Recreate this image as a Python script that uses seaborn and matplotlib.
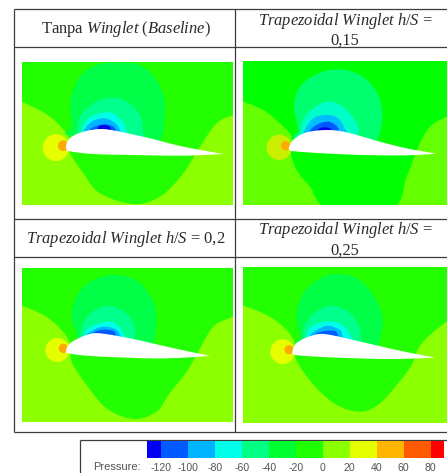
import numpy as np
import pandas as pd
import matplotlib
matplotlib.use("Agg")
import matplotlib.pyplot as plt
from matplotlib.colors import ListedColormap, BoundaryNorm
from matplotlib.patches import Circle
import seaborn as sns

#legend values
level_edges = [-130, -120, -100, -80, -60, -40, -20, 0, 20, 40, 60, 80, 90]
level_colors = ["#0000f0", "#005aff", "#00b4ff", "#00ffe6", "#00ff82", "#00ff32",
                "#1eff00", "#8cff00", "#e6ff00", "#ffb400", "#ff5a00", "#ff0000"]
legend_cells = [-125, -115, -105, -95, -85, -75, -65, -55, -45, -35, -25,
                -15, -5, 5, 15, 25, 35, 45, 55, 65, 75, 85]
legend_ticks = [-120, -100, -80, -60, -40, -20, 0, 20, 40, 60, 80]

#panel titles
titles = [
    r"Tanpa $\mathit{Winglet}$ ($\mathit{Baseline}$)",
    "$\\mathit{Trapezoidal\\ Winglet\\ h/S}$ =\n0,15",
    r"$\mathit{Trapezoidal\ Winglet\ h/S}$ = 0,2",
    "$\\mathit{Trapezoidal\\ Winglet\\ h/S}$ =\n0,25",
]

#contour outlines, panel 1
p1_rect = [66, 700, 185, 615]
p1_light = [(40, 295), (66, 305), (150, 350), (205, 410), (205, 450), (250, 520), (300, 580), (400, 612),
            (480, 590), (550, 520), (600, 440), (650, 370), (700, 345), (730, 335), (730, 650), (40, 650)]
p1_m20 = [(215, 380), (212, 300), (240, 230), (290, 195), (350, 187), (420, 195), (470, 240), (495, 310), (490, 390), (480, 430)]
p1_m40 = [(232, 395), (240, 350), (280, 310), (330, 293), (380, 305), (420, 345), (430, 400)]
p1_m60 = [(245, 395), (260, 360), (300, 340), (340, 340), (370, 370), (380, 400)]
p1_m80 = [(250, 395), (275, 365), (310, 355), (340, 365), (360, 390)]
p1_m100 = [(270, 390), (290, 378), (320, 373), (345, 385)]
p1_m120 = [(295, 382), (310, 375), (330, 382)]
p1_wing = [(198, 437), (202, 425), (215, 410), (250, 395), (300, 387), (350, 393), (450, 415), (550, 440), (670, 462),
           (550, 467), (400, 465), (280, 462), (210, 454), (199, 447)]
p1_yellow = (168, 443, 40)
p1_orange = (190, 437, 16)

#panel 2
p2_rect = [40, 651, 182, 615]
p2_light = [(10, 295), (40, 305), (100, 330), (150, 370), (185, 410), (180, 450), (200, 510), (240, 560), (295, 625),
            (485, 625), (530, 530), (565, 440), (600, 380), (651, 350), (690, 335), (690, 650), (10, 650)]
p2_m20 = [(205, 390), (192, 320), (210, 260), (260, 222), (325, 208), (390, 225), (440, 275), (457, 340), (450, 400), (440, 425)]
p2_m40 = [(210, 395), (225, 350), (265, 315), (305, 305), (345, 325), (380, 370), (385, 410)]
p2_m80 = [(222, 395), (250, 355), (290, 345), (325, 355), (350, 395), (352, 405)]
p2_m100 = [(240, 392), (265, 372), (295, 365), (320, 378), (327, 395)]
p2_m120 = [(262, 392), (280, 382), (300, 385), (305, 394)]
p2_wing = [(177, 442), (182, 430), (195, 415), (230, 397), (290, 390), (350, 397), (450, 425), (530, 445), (620, 461),
           (530, 466), (400, 465), (280, 460), (195, 454), (178, 450)]
p2_yellow = (148, 442, 38)
p2_orange = (167, 437, 14)

#panel 3
p3_rect = [66, 700, 160, 620]
p3_light = [(40, 262), (66, 272), (130, 300), (180, 340), (210, 385), (215, 440), (260, 510), (320, 580), (400, 612),
            (470, 590), (505, 540), (560, 470), (595, 410), (640, 335), (700, 305), (730, 295), (730, 650), (40, 650)]
p3_m20 = [(232, 370), (215, 300), (235, 235), (280, 195), (350, 180), (415, 200), (460, 260), (470, 320), (460, 390)]
p3_m40 = [(240, 365), (255, 315), (295, 280), (340, 275), (385, 300), (405, 340), (405, 375)]
p3_m60 = [(250, 365), (265, 340), (310, 322), (345, 325), (370, 355)]
p3_m80 = [(255, 365), (280, 345), (310, 335), (340, 340), (358, 355)]
p3_m100 = [(275, 358), (300, 345), (325, 345), (345, 352)]
p3_wing = [(198, 405), (204, 392), (220, 378), (260, 360), (300, 355), (400, 372), (500, 395), (630, 423),
           (500, 430), (380, 428), (260, 422), (205, 415), (199, 412)]
p3_yellow = (172, 405, 36)
p3_orange = (190, 400, 14)

#panel 4
p4_rect = [40, 651, 157, 623]
p4_light = [(10, 262), (40, 272), (110, 300), (165, 340), (195, 385), (195, 425), (220, 470), (270, 530), (330, 575),
            (395, 590), (450, 565), (500, 510), (545, 450), (565, 400), (600, 360), (651, 320), (690, 300), (690, 650), (10, 650)]
p4_m20 = [(210, 365), (200, 300), (220, 235), (270, 190), (320, 177), (380, 190), (430, 240), (458, 310), (445, 390), (430, 400)]
p4_m40 = [(218, 365), (230, 320), (265, 285), (310, 273), (355, 290), (385, 330), (395, 375)]
p4_m60 = [(228, 365), (245, 335), (285, 320), (330, 325), (358, 355)]
p4_m80 = [(238, 365), (260, 345), (295, 332), (330, 345), (335, 355)]
p4_m100 = [(255, 360), (275, 350), (300, 347), (320, 352)]
p4_wing = [(187, 410), (192, 395), (205, 380), (245, 362), (290, 358), (400, 382), (500, 405), (615, 428),
           (500, 432), (380, 430), (260, 425), (195, 420), (188, 416)]
p4_yellow = (158, 410, 37)
p4_orange = (177, 404, 14)

lobes_a = ["#00ff46", "#00ff8c", "#00ffe6", "#00b4ff", "#005aff", "#0000e6"]
lobes_b = ["#00ff6e", "#00ffc8", "#00beff", "#005aff", "#0000e6"]

panels = [
    (p1_rect, "#23ff00", p1_light, "#8cff00", [p1_m20, p1_m40, p1_m60, p1_m80, p1_m100, p1_m120], lobes_a, p1_wing, p1_yellow, p1_orange, "#e6ff00"),
    (p2_rect, "#00ff00", p2_light, "#64ff00", [p2_m20, p2_m40, p2_m80, p2_m100, p2_m120], lobes_b, p2_wing, p2_yellow, p2_orange, "#c8f000"),
    (p3_rect, "#23ff00", p3_light, "#8cff00", [p3_m20, p3_m40, p3_m60, p3_m80, p3_m100], lobes_a, p3_wing, p3_yellow, p3_orange, "#e6ff00"),
    (p4_rect, "#23ff00", p4_light, "#8cff00", [p4_m20, p4_m40, p4_m60, p4_m80, p4_m100], lobes_a, p4_wing, p4_yellow, p4_orange, "#e6ff00"),
]
#where each panel sits on the page, in pixels
panel_boxes = [(22, 233.3, 61.7, 205), (243.3, 447, 60.7, 205), (22, 233.3, 268.3, 421.7), (243.3, 447, 267.3, 422.7)]
title_spots = [(126, 29), (345, 30), (126, 239), (345, 239.5)]

W, H = 447, 473

sns.set_theme(style = "white")
plt.rcParams["font.family"] = ["Liberation Serif"]
plt.rcParams["mathtext.fontset"] = "custom"
plt.rcParams["mathtext.rm"] = "Liberation Serif"
plt.rcParams["mathtext.it"] = "Liberation Serif:italic"

def spline(points, closed = True, steps = 12):
    pts = np.array(points, dtype = float)
    if closed:
        pts = np.vstack([pts[-1], pts, pts[:2]])
    else:
        pts = np.vstack([pts[0], pts, pts[-1]])
    out = []
    for i in range(1, len(pts) - 2):
        p0, p1, p2, p3 = pts[i-1], pts[i], pts[i+1], pts[i+2]
        for t in np.linspace(0, 1, steps, endpoint = False):
            out.append(0.5*(2*p1 + (p2 - p0)*t + (2*p0 - 5*p1 + 4*p2 - p3)*t**2 + (3*p1 - p0 - 3*p2 + p3)*t**3))
    if not closed:
        out.append(pts[-2])
    return np.array(out)

#wing has a sharp tail, so the two surfaces get a curve each
def wing_outline(points):
    tip = int(np.argmax([p[0] for p in points]))
    upper = spline(points[:tip+1], closed = False)
    lower = spline(points[tip:] + [points[0]], closed = False)
    return np.vstack([upper, lower])

def page_axes(x0, x1, y0, y1):
    return fig.add_axes([x0/W, 1 - y1/H, (x1 - x0)/W, (y1 - y0)/H])

fig = plt.figure(figsize = (W/100, H/100), dpi = 100, facecolor = "white")

#contour panels
for (rect, base, light, light_col, lobes, lobe_cols, wing, yellow, orange, yellow_col), box in zip(panels, panel_boxes):
    ax = page_axes(*box)
    ax.set_xlim(rect[0], rect[1])
    ax.set_ylim(rect[3], rect[2])
    ax.set_facecolor(base)
    ax.set_xticks([])
    ax.set_yticks([])
    sns.despine(ax = ax, left = True, bottom = True)
    ax.fill(*spline(light).T, color = light_col, lw = 0, zorder = 1)
    for i, (pts, colour) in enumerate(zip(lobes, lobe_cols)):
        closed = pts + [(pts[-1][0], pts[-1][1] + 30), (pts[0][0], pts[0][1] + 30)]
        ax.fill(*spline(closed).T, color = colour, lw = 0, zorder = 2 + i)
    ax.add_patch(Circle(yellow[:2], yellow[2], color = yellow_col, lw = 0, zorder = 10))
    ax.add_patch(Circle(orange[:2], orange[2], color = "#ffaa00", lw = 0, zorder = 11))
    ax.fill(*wing_outline(wing).T, color = "white", lw = 0, zorder = 12)

#table rules and titles on a page wide layer
page = fig.add_axes([0, 0, 1, 1], zorder = 20)
page.set_xlim(0, W)
page.set_ylim(H, 0)
page.axis("off")
rule = "#3c3c3c"
page.hlines([9, 47, 219, 257, 432], 13.5, W, color = rule, lw = 0.9)
page.vlines([13.5, 235], 9, 432, color = rule, lw = 0.9)
for (tx, ty), title in zip(title_spots, titles):
    page.text(tx, ty, title, ha = "center", va = "center", fontsize = 11.9, color = "#2a2a2a", linespacing = 1.18)

#pressure legend
page.hlines(439.5, 80, W, color = rule, lw = 0.9)
page.vlines(80, 439.5, H, color = rule, lw = 0.9)
legend_ax = page_axes(147.3, 444, 441, 458)
legend_ax.set_zorder(21)
legend_df = pd.DataFrame([legend_cells])
sns.heatmap(
    data = legend_df,
    ax = legend_ax,
    cmap = ListedColormap(level_colors),
    norm = BoundaryNorm(level_edges, len(level_colors)),
    cbar = False,
    xticklabels = False,
    yticklabels = False
    )
legend_ax.set_xticks([(t - level_edges[0])/10 for t in legend_ticks])
legend_ax.set_xticklabels([str(t) for t in legend_ticks], family = "Liberation Sans", fontsize = 7.6, color = "#555555")
legend_ax.tick_params(axis = "x", length = 0, pad = 3.5)
page.text(93, 467, "Pressure:", family = "Liberation Sans", fontsize = 8, color = "#555555", va = "center")

fig.savefig("out.png", dpi = 100)
